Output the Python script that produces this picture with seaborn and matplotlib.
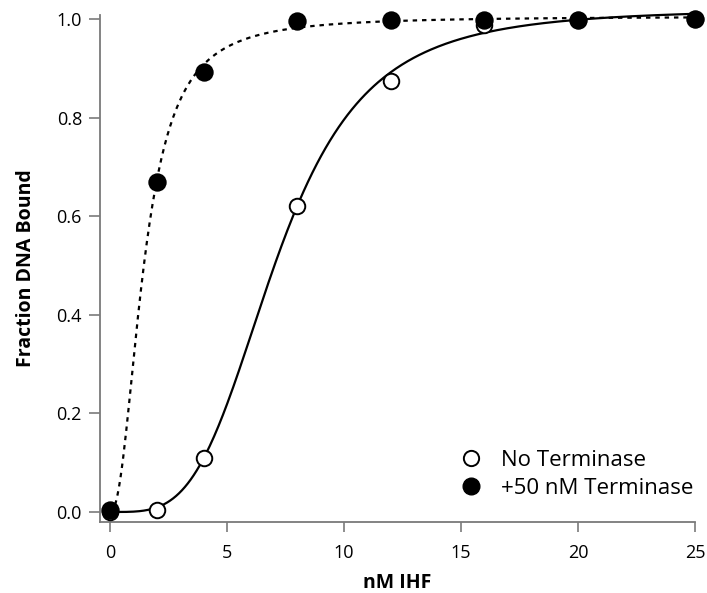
import numpy as np
import pandas as pd
import matplotlib
matplotlib.use("Agg")
import matplotlib.pyplot as plt
from matplotlib.lines import Line2D
import seaborn as sns

# IHF titration, fraction of DNA bound
ihf_nm = [0, 2, 4, 8, 12, 16, 20, 25]
bound_no_term = [0.0, 0.005, 0.11, 0.62, 0.875, 0.988, 0.997, 0.999]
bound_term = [0.005, 0.67, 0.893, 0.995, 0.997, 0.997, 0.998, 0.999]

series_labels = ["No Terminase", "+50 nM Terminase"]

# Hill fit parameters (Bmax, K in nM, n)
fit_no_term = (1.02, 7.1, 3.7)
fit_term = (1.005, 1.45, 2.2)


def hill(x, bmax, k, n):
    return bmax * x**n / (k**n + x**n)


sns.set_theme(style="white")
plt.rcParams["font.family"] = ["Open Sans", "DejaVu Sans"]
plt.rcParams["text.color"] = "black"
plt.rcParams["axes.labelcolor"] = "black"
plt.rcParams["xtick.color"] = "black"
plt.rcParams["ytick.color"] = "black"

fig = plt.figure(figsize=(7.07, 5.93), dpi=100)
ax = fig.add_axes([100 / 707, 71 / 593, 595 / 707, 507 / 593])

xs = np.linspace(0, max(ihf_nm), 400)
curves = pd.DataFrame({
    "x": xs,
    "no_term": hill(xs, *fit_no_term),
    "term": hill(xs, *fit_term),
})

sns.lineplot(data=curves, x="x", y="no_term", ax=ax, color="black", lw=1.6,
             clip_on=False)
sns.lineplot(data=curves, x="x", y="term", ax=ax, color="black", lw=1.6,
             dashes=False, clip_on=False)
ax.lines[-1].set_dashes([2.0, 2.2])

pts = pd.DataFrame({"x": ihf_nm, "a": bound_no_term, "b": bound_term})
sns.scatterplot(data=pts, x="x", y="a", ax=ax, s=125, facecolor="white",
                edgecolor="black", linewidth=1.4, clip_on=False, zorder=3)
sns.scatterplot(data=pts, x="x", y="b", ax=ax, s=175, color="black",
                edgecolor="black", linewidth=0, clip_on=False, zorder=4)

ax.set_xlim(-0.43, 25)
ax.set_ylim(-0.0203, 1.008)
ax.set_xticks([0, 5, 10, 15, 20, 25])
ax.set_yticks([0.0, 0.2, 0.4, 0.6, 0.8, 1.0])
ax.set_yticklabels([f"{v:.1f}" for v in [0.0, 0.2, 0.4, 0.6, 0.8, 1.0]])

for side in ("top", "right"):
    ax.spines[side].set_visible(False)
for side in ("left", "bottom"):
    ax.spines[side].set_color("#7a7a7a")
    ax.spines[side].set_linewidth(1.3)

ax.tick_params(axis="y", direction="out", length=8, width=1.2,
               color="#7a7a7a", labelcolor="black", labelsize=13, pad=5,
               left=True)
ax.tick_params(axis="x", direction="out", length=7, width=1.2,
               color="#7a7a7a", labelcolor="black", labelsize=13, pad=9,
               bottom=True)

ax.set_xlabel("nM IHF", fontsize=14, fontweight="bold", labelpad=8)
ax.set_ylabel("Fraction DNA Bound", fontsize=14, fontweight="bold",
              labelpad=15)

handles = [
    Line2D([], [], ls="none", marker="o", ms=11, mfc="white", mec="black",
           mew=1.4),
    Line2D([], [], ls="none", marker="o", ms=12, mfc="black", mec="black"),
]
ax.legend(handles, series_labels, loc="lower right", frameon=False,
          fontsize=16, handletextpad=0.55, labelspacing=0.33,
          handlelength=1.6, bbox_to_anchor=(1.012, 0.028),
          borderaxespad=0.0)

fig.savefig("out.png", dpi=100)
